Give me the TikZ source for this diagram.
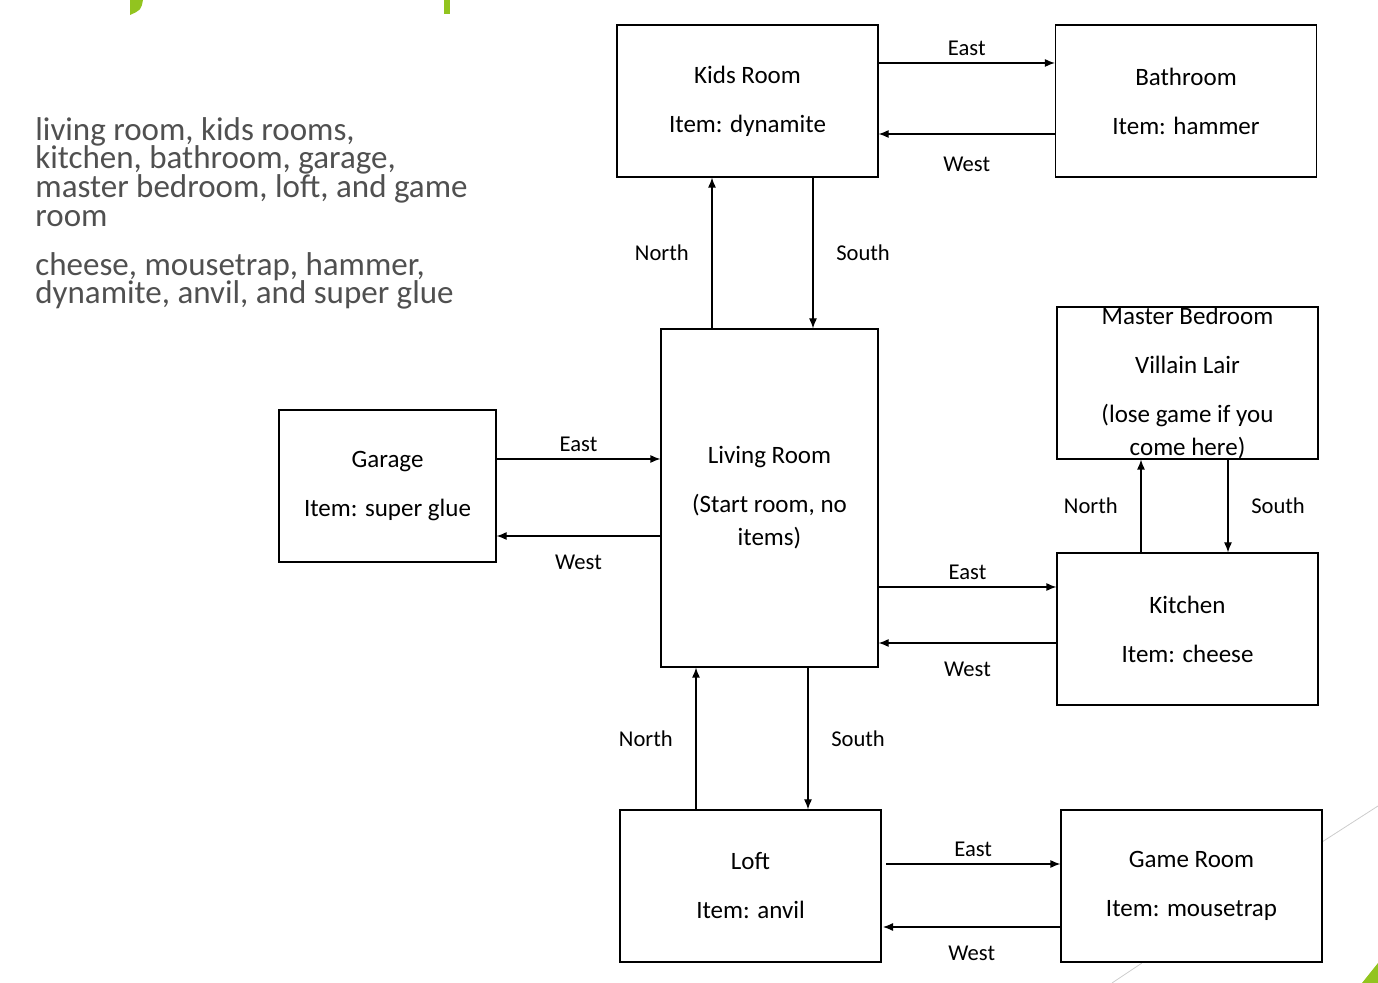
\documentclass[tikz,border=0pt]{standalone}
\usepackage{fontspec}
\setmainfont{Carlito}
\usetikzlibrary{arrows.meta, positioning}
\definecolor{slidegreen}{RGB}{146,196,31}
\definecolor{slidetext}{RGB}{80,80,80}
\tikzset{
    room/.style={draw, line width=0.6pt, minimum width=#1, inner sep=0pt, align=center,
        font=\fontsize{12.5}{16.5}\selectfont},
    room/.default={130.5pt},
    move/.style={-{Latex[length=5pt,width=4pt]}, line width=0.6pt},
    dir/.style={font=\fontsize{11.3}{12}\selectfont}
}
\begin{document}
\begin{tikzpicture}[x=0.5pt, y=-0.5pt]
    \useasboundingbox (0,0) rectangle (1378,983);
    % slide decoration
    \fill[slidegreen] (130,0) -- (143,0) .. controls (141,10) .. (130,15) -- cycle;
    \fill[slidegreen] (444,0) rectangle (450,14);
    \draw[gray!40] (1322,842) -- (1378,806);
    \draw[gray!40] (1112,983) -- (1142,963);
    \fill[slidegreen] (1362,983) -- (1378,963) -- (1378,983) -- cycle;
    % room list
    \node[anchor=north west, inner sep=0pt, align=left, text=slidetext, font=\fontsize{16.5}{14.3}\selectfont]
        (rooms) at (35,117) {living room, kids rooms,\\kitchen, bathroom, garage,\\master bedroom, loft, and game\\room};
    \node[anchor=north west, inner sep=0pt, align=left, text=slidetext, font=\fontsize{16.5}{14.3}\selectfont]
        (items) at (35,252) {cheese, mousetrap, hammer,\\dynamite, anvil, and super glue};
    % rooms
    \node[room, minimum height=76pt] (kids) at (747.5,101) {Kids Room\\[8pt]Item: dynamite};
    \node[room, minimum height=76pt] (bath) at (1186,101) {Bathroom\\[8pt]Item: hammer};
    \node[room, minimum height=76pt] (master) at (1187.5,383) {Master Bedroom\\[8pt]Villain Lair\\[8pt](lose game if you\\come here)};
    \node[room=108.5pt, minimum height=76pt] (garage) at (387.5,486) {Garage\\[8pt]Item: super glue};
    \node[room=108.5pt, minimum height=169pt] (living) at (769.5,498) {Living Room\\[8pt](Start room, no\\items)};
    \node[room, minimum height=76pt] (kitchen) at (1187.5,629) {Kitchen\\[8pt]Item: cheese};
    \node[room, minimum height=76pt] (loft) at (750.5,886) {Loft\\[8pt]Item: anvil};
    \node[room, minimum height=76pt] (game) at (1191.5,886) {Game Room\\[8pt]Item: mousetrap};
    % moves
    \draw[move] (kids.east |- 0,63) -- node[dir, above] {East} (bath.west |- 0,63);
    \draw[move] (bath.west |- 0,134) -- node[dir, below=8pt] {West} (kids.east |- 0,134);
    \draw[move] (living.north -| 712,0) -- node[dir, left=8pt] {North} (kids.south -| 712,0);
    \draw[move] (kids.south -| 813,0) -- node[dir, right=8pt] {South} (living.north -| 813,0);
    \draw[move] (garage.east |- 0,459) -- node[dir, above] {East} (living.west |- 0,459);
    \draw[move] (living.west |- 0,536) -- node[dir, below=6pt] {West} (garage.east |- 0,536);
    \draw[move] (living.east |- 0,587) -- node[dir, above] {East} (kitchen.west |- 0,587);
    \draw[move] (kitchen.west |- 0,643) -- node[dir, below=6pt] {West} (living.east |- 0,643);
    \draw[move] (kitchen.north -| 1141,0) -- node[dir, left=8pt] {North} (master.south -| 1141,0);
    \draw[move] (master.south -| 1228,0) -- node[dir, right=8pt] {South} (kitchen.north -| 1228,0);
    \draw[move] (loft.north -| 696,0) -- node[dir, left=8pt] {North} (living.south -| 696,0);
    \draw[move] (living.south -| 808,0) -- node[dir, right=8pt] {South} (loft.north -| 808,0);
    \draw[move] (886,864) -- node[dir, above] {East} (game.west |- 0,864);
    \draw[move] (game.west |- 0,927) -- node[dir, below=6pt] {West} (883,927);
\end{tikzpicture}
\end{document}
